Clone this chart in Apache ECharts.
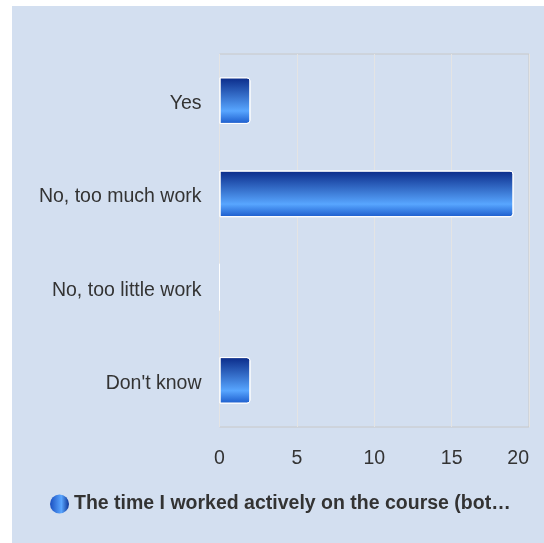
<!DOCTYPE html>
<html>
<head>
<meta charset="utf-8">
<script src="https://cdn.jsdelivr.net/npm/echarts@6/dist/echarts.min.js"></script>
<style>
  html, body { margin: 0; padding: 0; background: #ffffff; }
  #panel { position: absolute; left: 12px; top: 6px; width: 532px; height: 537px; }
</style>
</head>
<body>
<div id="panel"></div>
<script>
// Answer categories (top to bottom) and how many respondents picked each
const categories = ['Yes', 'No, too much work', 'No, too little work', "Don't know"];
const counts = [2, 19, 0, 2];
const seriesName = 'The time I worked actively on the course (bot\u2026';
const xTicks = { min: 0, max: 20, interval: 5 };

const chart = echarts.init(document.getElementById('panel'));

const barGradient = new echarts.graphic.LinearGradient(0, 0, 0, 1, [
  { offset: 0, color: '#0a2a88' },
  { offset: 0.72, color: '#58a6ff' },
  { offset: 1, color: '#1a5acb' }
]);
const legendGradient = new echarts.graphic.LinearGradient(0, 0, 1, 0, [
  { offset: 0, color: '#1a4fc0' },
  { offset: 0.6, color: '#5aa6ff' },
  { offset: 1, color: '#0d3596' }
]);

chart.setOption({
  backgroundColor: '#d3dff0',
  textStyle: { fontFamily: 'Liberation Sans, Arial, sans-serif' },
  grid: { left: 207.5, right: 15, top: 48, bottom: 116, containLabel: false,
          show: true, borderColor: '#c8c8c8', borderWidth: 1, backgroundColor: 'transparent' },
  legend: {
    bottom: 24,
    left: 33,
    itemWidth: 19,
    itemHeight: 19,
    itemGap: 6,
    icon: 'circle',
    selectedMode: false,
    textStyle: { fontSize: 19.5, fontWeight: 'bold', color: '#333333' },
    data: [{ name: seriesName, itemStyle: { color: legendGradient, borderWidth: 0 } }]
  },
  xAxis: {
    type: 'value',
    min: xTicks.min,
    max: xTicks.max,
    interval: xTicks.interval,
    axisLine: { show: false },
    axisTick: { show: false },
    splitLine: { show: true, lineStyle: { color: '#e4e4e4', width: 1 } },
    axisLabel: { fontSize: 19.5, color: '#333333', margin: 22, alignMaxLabel: 'right' }
  },
  yAxis: {
    type: 'category',
    inverse: true,
    data: categories,
    axisLine: { show: false },
    axisTick: { show: false },
    axisLabel: {
      margin: 18,
      formatter: (v) => '{c|' + v + '}',
      rich: { c: { fontSize: 19.5, color: '#333333', padding: [6, 0, 0, 0] } }
    }
  },
  series: [{
    name: seriesName,
    type: 'bar',
    data: counts,
    barWidth: '50%',
    itemStyle: {
      color: barGradient,
      borderColor: '#ffffff',
      borderWidth: 1,
      borderRadius: [0, 3, 3, 0]
    }
  }]
});
</script>
</body>
</html>
